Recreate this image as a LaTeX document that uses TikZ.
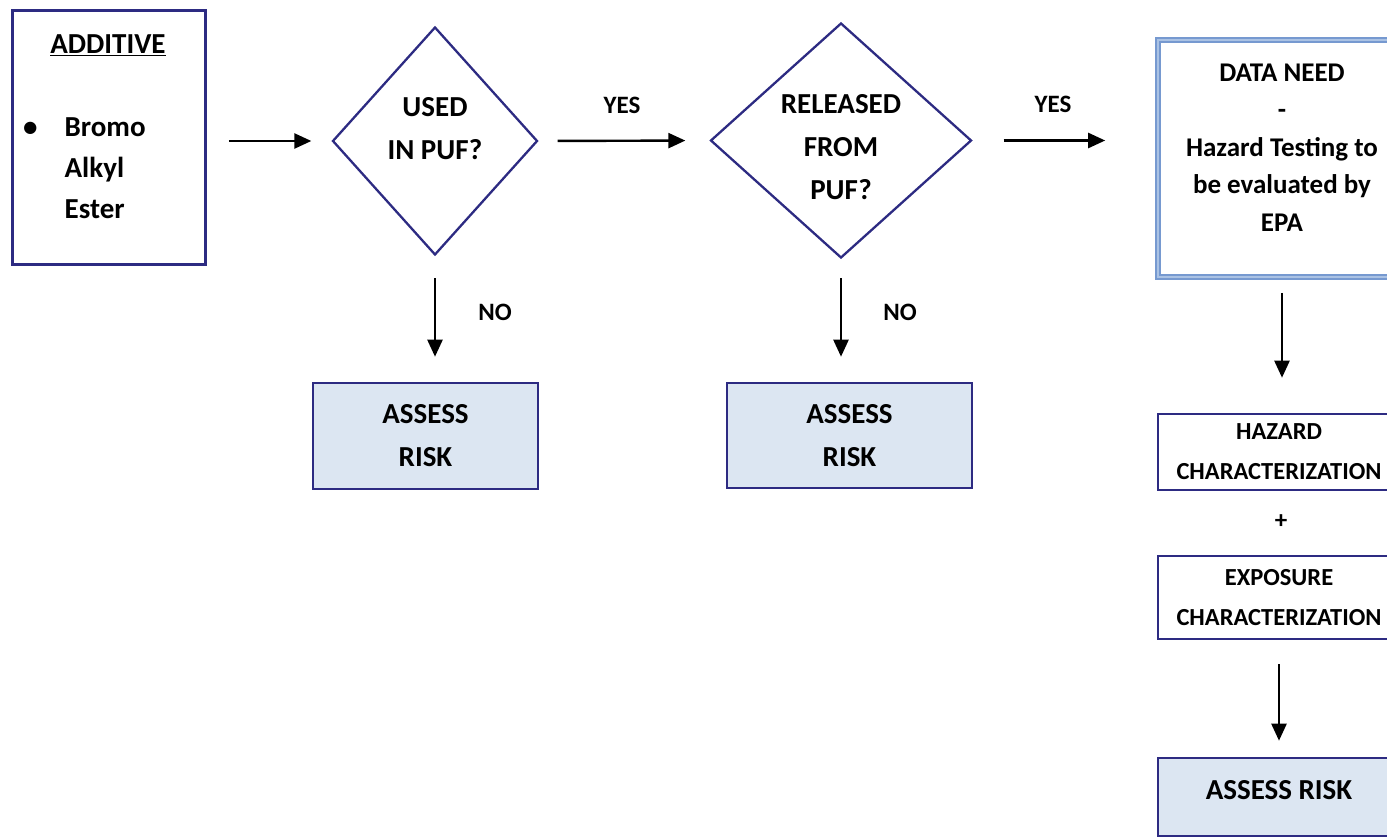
\documentclass[tikz,border=0pt]{standalone}
\usepackage{fontspec}
\setmainfont{Carlito}
\usetikzlibrary{shapes.geometric,arrows.meta}
\definecolor{boxblue}{RGB}{45,43,130}
\definecolor{riskfill}{RGB}{220,230,242}
\definecolor{dataline}{RGB}{118,153,208}
\definecolor{datainner}{RGB}{170,194,228}
\tikzset{
	flowbox/.style={draw=boxblue, line width=2.6pt, fill=white, inner sep=0pt, align=center, font=\bfseries\fontsize{24.5}{40}\selectfont},
	riskbox/.style={flowbox, fill=riskfill, font=\bfseries\fontsize{29}{43}\selectfont},
	decision/.style={diamond, draw=boxblue, line width=2.3pt, inner sep=0pt},
	bigtext/.style={align=center, font=\bfseries\fontsize{29}{43}\selectfont},
	answer/.style={font=\bfseries\fontsize{25}{30}\selectfont},
	flowarrow/.style={line width=2.4pt, -{Triangle[width=15pt,length=17pt]}}
}

\begin{document}
\begin{tikzpicture}[x=1pt,y=-1pt]
\useasboundingbox (0,0) rectangle (1387,837);
\clip (0,0) rectangle (1387,837);
\node[flowbox, minimum width=193pt, minimum height=254pt] (additive) at (109,137.5) {};
\node[bigtext, anchor=base] (additivetitle) at (108,54) {\underline{ADDITIVE}};
\node[font=\bfseries\fontsize{29}{41}\selectfont, anchor=base west, inner sep=0pt] (additivelist) at (23,137)
	{\begin{tabular}[t]{@{}l@{\hspace{27pt}}l@{}}\textbullet & Bromo\\ & Alkyl\\ & Ester\end{tabular}};
\node[decision, minimum width=205pt, minimum height=228pt] (used) at (435,141) {};
\node[bigtext] (usedtext) at (435,129) {USED\\IN PUF?};
\node[decision, minimum width=261pt, minimum height=235pt] (released) at (841,140.5) {};
\node[bigtext] (releasedtext) at (841,147.5) {RELEASED\\FROM\\PUF?};
\node[flowbox, draw=dataline, double=datainner, double distance=2pt, line width=1.6pt, minimum width=248pt, minimum height=237pt] (data) at (1282,158.5) {};
\node[font=\bfseries\fontsize{27}{37.5}\selectfont, align=center] (datatext) at (1282,147.5) {DATA NEED\\-\\Hazard Testing to\\be evaluated by\\EPA};
\node[riskbox, minimum width=225pt, minimum height=106pt] (riska) at (425.5,436) {ASSESS\\RISK};
\node[riskbox, minimum width=245pt, minimum height=105pt] (riskb) at (849.5,435.5) {ASSESS\\RISK};
\node[flowbox, minimum width=242pt, minimum height=76pt] (hazard) at (1279,452) {HAZARD\\CHARACTERIZATION};
\node[answer] (plus) at (1281,522) {+};
\node[flowbox, minimum width=242pt, minimum height=83pt] (exposure) at (1279,597.5) {EXPOSURE\\CHARACTERIZATION};
\node[riskbox, minimum width=242pt, minimum height=78pt, text depth=14pt] (riskc) at (1279,797) {ASSESS RISK};

\node[answer] (yesa) at (622,105) {YES};
\node[answer] (yesb) at (1053,104) {YES};
\node[answer] (noa) at (495,312) {NO};
\node[answer] (nob) at (900,312) {NO};

\draw[flowarrow, shorten <=22pt, shorten >=20pt] (used.west -| additive.east) -- (used.west);
\draw[flowarrow, shorten <=19pt, shorten >=24pt] (used.east) -- (released.west);
\draw[flowarrow, shorten <=31pt, shorten >=52pt] (released.east) -- (released.east -| data.west);
\draw[flowarrow, shorten <=22pt, shorten >=25pt] (used.south) -- (used.south |- riska.north);
\draw[flowarrow, shorten <=19pt, shorten >=25pt] (released.south) -- (released.south |- riskb.north);
\draw[flowarrow, shorten <=15pt, shorten >=35pt] (data.south) -- (data.south |- hazard.north);
\draw[flowarrow, shorten <=24pt, shorten >=16pt] (exposure.south) -- (riskc.north);
\end{tikzpicture}
\end{document}
